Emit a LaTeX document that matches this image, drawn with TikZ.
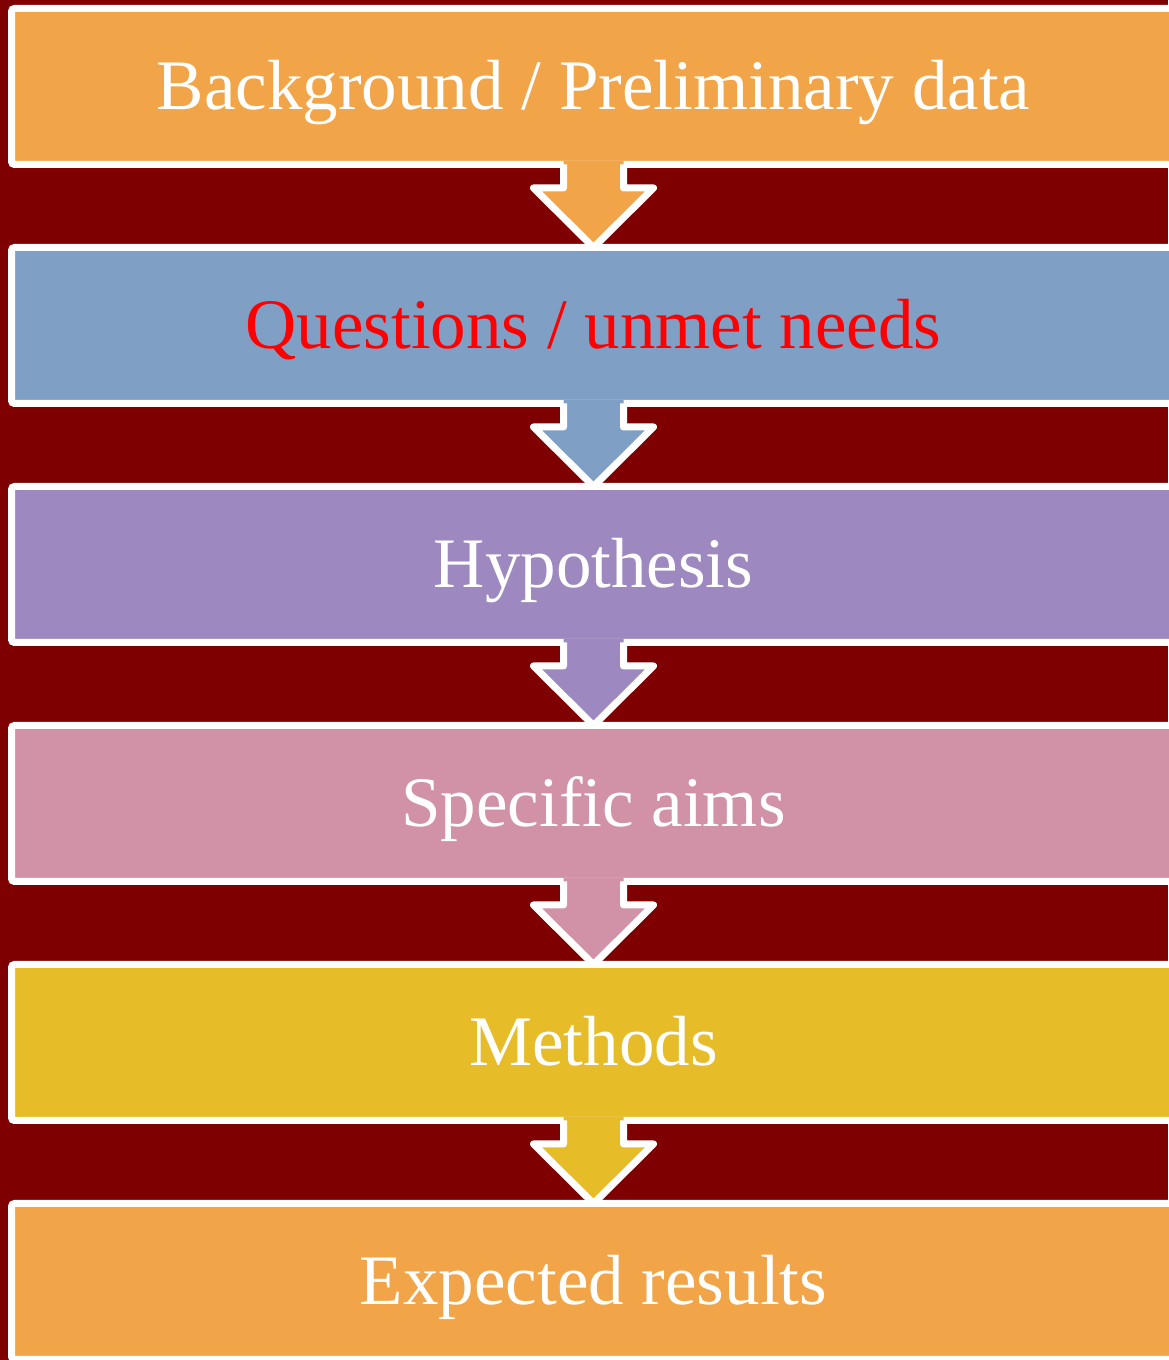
\documentclass[tikz,border=0pt]{standalone}
\usepackage{fontspec}
\setmainfont{Liberation Serif}
\usetikzlibrary{calc}

\definecolor{bgred}{HTML}{7F0000}
\definecolor{cOrange}{HTML}{F2A548}
\definecolor{cBlue}{HTML}{7FA0C4}
\definecolor{cPurple}{HTML}{9D88C0}
\definecolor{cPink}{HTML}{D191A7}
\definecolor{cYellow}{HTML}{E6BD29}
\definecolor{cRedText}{HTML}{FF0000}

\tikzset{
  stagebox/.style={draw=white, line width=7pt, rounded corners=3pt,
    minimum width=1164pt, minimum height=156pt, inner sep=0pt, outer sep=0pt,
    text height=46.5pt, text depth=0pt, text=white,
    font=\fontsize{71}{80}\selectfont},
  arrowedge/.style={draw=white, line width=7pt, line join=round},
}

% block arrow hanging from the bottom of one stage down to the next
\newcommand\flowarrow[3]{%
  \fill[#3] ([xshift=-30pt,yshift=3.5pt]#1.south) -- ([xshift=-30pt,yshift=-23.5pt]#1.south)
    -- ([xshift=-60pt,yshift=-23.5pt]#1.south) -- (#2.north)
    -- ([xshift=60pt,yshift=-23.5pt]#1.south) -- ([xshift=30pt,yshift=-23.5pt]#1.south)
    -- ([xshift=30pt,yshift=3.5pt]#1.south) -- cycle;
  \draw[arrowedge] ([xshift=-30pt]#1.south) -- ([xshift=-30pt,yshift=-23.5pt]#1.south)
    -- ([xshift=-60pt,yshift=-23.5pt]#1.south) -- (#2.north)
    -- ([xshift=60pt,yshift=-23.5pt]#1.south) -- ([xshift=30pt,yshift=-23.5pt]#1.south)
    -- ([xshift=30pt]#1.south);
}

\begin{document}
\begin{tikzpicture}[x=1pt,y=1pt]
  \fill[bgred] (0,0) rectangle (1168,1360);
  \useasboundingbox (0,0) rectangle (1168,1360);

  \node[stagebox, fill=cOrange] (b1) at (593.5,1273.5) {Background / Preliminary data};
  \node[stagebox, fill=cBlue, text=cRedText] (b2) at (593.5,1034.5) {Questions / unmet needs};
  \node[stagebox, fill=cPurple] (b3) at (593.5,795.5) {Hypothesis};
  \node[stagebox, fill=cPink] (b4) at (593.5,556.5) {Specific aims};
  \node[stagebox, fill=cYellow] (b5) at (593.5,317.5) {Methods};
  \node[stagebox, fill=cOrange] (b6) at (593.5,78.5) {Expected results};

  \flowarrow{b1}{b2}{cOrange}
  \flowarrow{b2}{b3}{cBlue}
  \flowarrow{b3}{b4}{cPurple}
  \flowarrow{b4}{b5}{cPink}
  \flowarrow{b5}{b6}{cYellow}
\end{tikzpicture}
\end{document}
